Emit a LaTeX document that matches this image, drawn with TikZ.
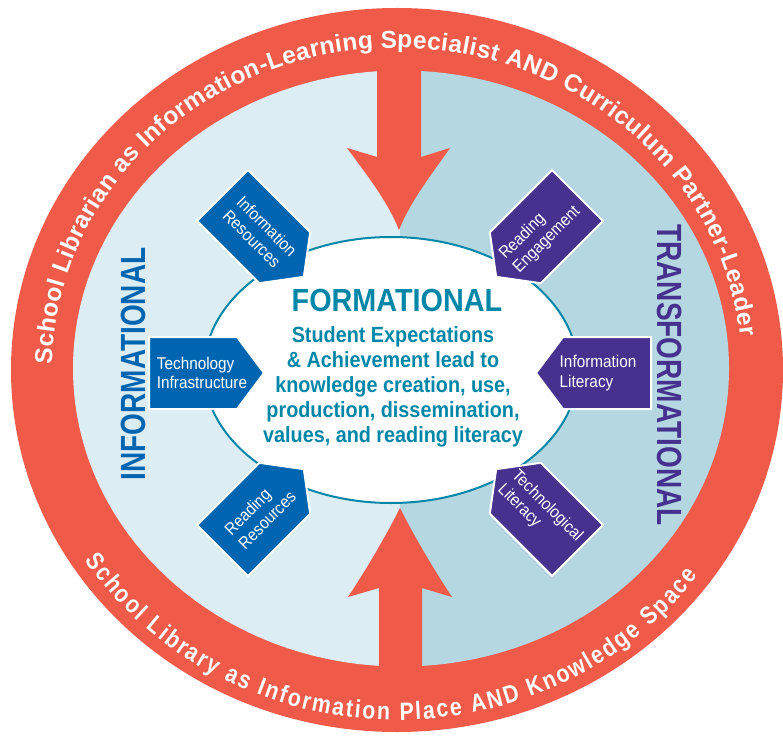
\documentclass[tikz,border=0pt]{standalone}
\usepackage{fontspec}
\setmainfont{Liberation Sans}
\newfontfamily\condfont[FakeStretch=0.9]{Liberation Sans}
\newfontfamily\narrowfont[FakeStretch=0.8]{Liberation Sans}
\newfontfamily\ringcond[FakeStretch=0.85]{Liberation Sans}
\usetikzlibrary{decorations.text,calc,shapes.geometric}
\definecolor{ringred}{HTML}{EF5B48}
\definecolor{paleblue}{HTML}{DCEDF4}
\definecolor{midblue}{HTML}{B4D7E1}
\definecolor{plateblue}{HTML}{0065B1}
\definecolor{platepurple}{HTML}{46318F}
\definecolor{tealtext}{HTML}{0087A8}
\tikzset{
  plate/.style={draw=white, line width=2pt, line join=miter},
  platetext/.style={text=white, font=\condfont\fontsize{17}{19.5}\selectfont, align=left, inner sep=0pt},
  ringtext/.style={decorate, decoration={text along path, text color=white, text align={fit to path}, text={#1}}},
  bigarrow/.style={fill=ringred},
  sidetitle/.style={font=\narrowfont\bfseries\fontsize{35}{35}\selectfont, inner sep=0pt},
}
\newcommand{\hplate}[5]{%
  \begin{scope}[shift={(O)}, shift={(#2:251pt)}, rotate=#2+180]
    \path[plate, fill=#3] (0,-36) -- (88,-36) -- (115,0) -- (88,36) -- (0,36) -- cycle;
    \node[platetext, rotate=#4] (#1) at (53,0) {#5};
  \end{scope}}
\begin{document}
\begin{tikzpicture}[x=1pt,y=1pt]
\useasboundingbox (0,0) rectangle (783,737);
\fill[white] (0,0) rectangle (783,737);
\coordinate (R) at (397,367);
\coordinate (I) at (401,368.5);
\coordinate (O) at (400,364);
\coordinate (E) at (391,367);
% outer ring
\fill[ringred] (R) ellipse [x radius=386pt, y radius=362pt];
\begin{scope}
  \clip (I) ellipse [x radius=328pt, y radius=298pt];
  \fill[paleblue] (0,0) rectangle (400,737);
  \fill[midblue] (400,0) rectangle (783,737);
\end{scope}
% arrows
\fill[bigarrow] (377,697) -- (377,580) -- (347,589)
  .. controls (367,562) and (388,535) .. (399,507)
  .. controls (410,535) and (431,562) .. (450,589) -- (421,580) -- (421,697) -- cycle;
\fill[bigarrow] (379,37) -- (379,149) -- (348,140)
  .. controls (368,170) and (388,205) .. (400,229)
  .. controls (412,205) and (432,170) .. (452,140) -- (422,149) -- (422,37) -- cycle;
% central ellipse
\node[draw=tealtext, line width=2pt, fill=white, ellipse, minimum width=374pt, minimum height=266pt, inner sep=0pt] (core) at (E) {};
% ring texts
\path[ringtext={|\bfseries\fontsize{24.5}{25}\selectfont|School Librarian as Information-Learning Specialist AND Curriculum Partner-Leader}]
  (R) ++(179:345pt and 322pt) arc[start angle=179, end angle=6, x radius=345pt, y radius=322pt];
\path[ringtext={|\ringcond\bfseries\fontsize{25}{25}\selectfont|School Library as Information Place AND Knowledge Space}]
  (R) ++(213:372pt and 350pt) arc[start angle=213, end angle=324, x radius=372pt, y radius=350pt];
% plates
\hplate{techinfra}{180}{plateblue}{0}{Technology\\Infrastructure}
\hplate{infores}{135}{plateblue}{-45}{Information\\Resources}
\hplate{readres}{225}{plateblue}{45}{Reading\\Resources}
\hplate{infolit}{0}{platepurple}{0}{Information\\Literacy}
\hplate{readeng}{45}{platepurple}{45}{Reading\\Engagement}
\hplate{techlit}{-45}{platepurple}{-45}{Technological\\Literacy}
% side titles
\node[sidetitle, text=plateblue, rotate=90] (informational) at (133,373) {INFORMATIONAL};
\node[sidetitle, text=platepurple, rotate=-90] (transformational) at (670,362) {TRANSFORMATIONAL};
% centre text
\node[font=\condfont\bfseries\fontsize{32}{32}\selectfont, text=tealtext, inner sep=0pt] (formational) at (397,437) {FORMATIONAL};
\node[font=\condfont\bfseries\fontsize{22}{25}\selectfont, text=tealtext, align=center, inner sep=0pt] (achievement) at (393,350) {Student Expectations\\\& Achievement lead to\\knowledge creation, use,\\production, dissemination,\\values, and reading literacy};
\end{tikzpicture}
\end{document}
